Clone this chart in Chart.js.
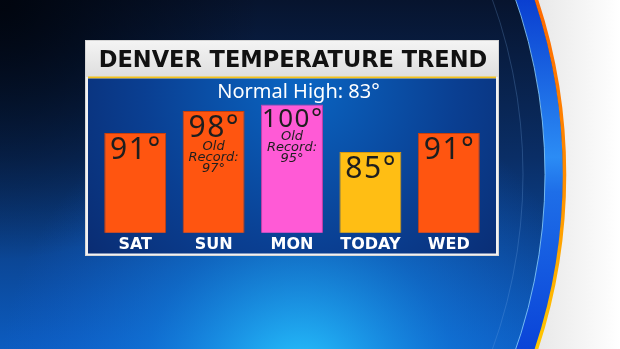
<!DOCTYPE html>
<html>
<head>
<meta charset="utf-8">
<script src="https://cdn.jsdelivr.net/npm/chart.js"></script>
<style>
  html, body { margin: 0; padding: 0; background: #fff; }
  #wrap { width: 620px; height: 349px; }
</style>
</head>
<body>
<div id="wrap"><canvas id="tempChart" width="620" height="349"></canvas></div>
<script>
const days = ['SAT', 'SUN', 'MON', 'TODAY', 'WED'];
const highs = [91, 98, 100, 85, 91];
const oldRecords = [null, 97, 95, null, null];
const chartTitle = 'DENVER TEMPERATURE TREND';
const normalHigh = 83;

// background: dark-to-bright blue studio backdrop with the curved ribbon on the right
const backdrop = {
    id: 'backdrop',
    beforeDraw(chart) {
        const c = chart.ctx;
        const W = chart.width, H = chart.height;
        c.save();
        // white outside the ribbon
        let g = c.createLinearGradient(540, 0, W, 0);
        g.addColorStop(0, '#e9e9e9');
        g.addColorStop(1, '#ffffff');
        c.fillStyle = g;
        c.fillRect(0, 0, W, H);

        const cx = 8, cy = 174.5;
        c.beginPath();
        c.arc(cx, cy, 557, 0, Math.PI * 2);
        c.clip();
        g = c.createLinearGradient(0, 0, 0, H);
        g.addColorStop(0, '#07142e');
        g.addColorStop(0.45, '#0a2e66');
        g.addColorStop(1, '#0c5cc0');
        c.fillStyle = g;
        c.fillRect(0, 0, W, H);
        let r = c.createRadialGradient(300, 380, 10, 300, 380, 300);
        r.addColorStop(0, 'rgba(40,200,255,0.95)');
        r.addColorStop(0.5, 'rgba(20,130,230,0.5)');
        r.addColorStop(1, 'rgba(20,100,220,0)');
        c.fillStyle = r;
        c.fillRect(0, 0, W, H);
        r = c.createRadialGradient(0, 0, 10, 0, 0, 260);
        r.addColorStop(0, 'rgba(0,4,12,0.9)');
        r.addColorStop(1, 'rgba(0,4,12,0)');
        c.fillStyle = r;
        c.fillRect(0, 0, W, H);
        c.restore();

        c.save();
        // faint inner ring
        c.strokeStyle = 'rgba(120,170,230,0.25)';
        c.lineWidth = 1;
        c.beginPath();
        c.arc(cx, cy, 515, -0.4, 0.4);
        c.stroke();
        // blue ribbon
        g = c.createLinearGradient(0, 0, 0, H);
        g.addColorStop(0, '#0a3fd0');
        g.addColorStop(0.45, '#2b8cf5');
        g.addColorStop(0.55, '#1e6ee8');
        g.addColorStop(1, '#0a44d8');
        c.strokeStyle = g;
        c.lineWidth = 18;
        c.beginPath();
        c.arc(cx, cy, 546, -0.4, 0.4);
        c.stroke();
        c.strokeStyle = 'rgba(140,210,255,0.8)';
        c.lineWidth = 1;
        c.beginPath();
        c.arc(cx, cy, 537, -0.4, 0.4);
        c.stroke();
        // orange / yellow edge
        g = c.createLinearGradient(0, 0, 0, H);
        g.addColorStop(0, '#ff6a00');
        g.addColorStop(0.5, '#ff8c00');
        g.addColorStop(1, '#ffc800');
        c.strokeStyle = g;
        c.lineWidth = 3.5;
        c.beginPath();
        c.arc(cx, cy, 556.5, -0.4, 0.4);
        c.stroke();
        c.restore();

        // graphic panel
        c.save();
        c.fillStyle = '#d6d6d6';
        c.fillRect(85, 40, 414, 216);
        g = c.createLinearGradient(0, 41, 0, 77);
        g.addColorStop(0, '#f4f4f4');
        g.addColorStop(1, '#dedede');
        c.fillStyle = g;
        c.fillRect(86, 41, 412, 36);
        c.fillStyle = '#f2f2f2';
        c.fillRect(86, 77, 412, 178);
        c.fillStyle = '#f3c21a';
        c.fillRect(88, 76.5, 408, 2);
        r = c.createRadialGradient(300, 80, 10, 300, 110, 300);
        r.addColorStop(0, '#0a63c0');
        r.addColorStop(0.5, '#0a3f92');
        r.addColorStop(1, '#0a2566');
        c.fillStyle = r;
        c.fillRect(88, 78.5, 408, 175);

        c.textAlign = 'center';
        c.textBaseline = 'alphabetic';
        c.fillStyle = '#111111';
        c.font = 'bold 22.5px "DejaVu Sans"';
        c.fillText(chartTitle, 293, 67);
        c.fillStyle = '#ffffff';
        c.font = '20px "Noto Sans"';
        c.fillText('Normal High: ' + normalHigh + '\u00b0', 298.5, 98);
        c.restore();
    }
};

// temperature and old-record text inside each bar
const barText = {
    id: 'barText',
    afterDatasetsDraw(chart) {
        const c = chart.ctx;
        const meta = chart.getDatasetMeta(0);
        c.save();
        c.textAlign = 'center';
        c.textBaseline = 'alphabetic';
        c.fillStyle = '#1e1e1e';
        meta.data.forEach((bar, i) => {
            const label = highs[i] + '\u00b0';
            let size = 30;
            c.letterSpacing = '1.5px';
            c.font = size + 'px "Noto Sans"';
            while (c.measureText(label).width > bar.width && size > 10) {
                size--;
                c.font = size + 'px "Noto Sans"';
            }
            const base = bar.y + size * 0.86;
            c.fillText(label, bar.x + 0.75, base);
            if (oldRecords[i] != null) {
                c.letterSpacing = '0px';
                c.font = 'italic 13px "DejaVu Sans"';
                c.fillText('Old', bar.x, base + 13);
                c.fillText('Record:', bar.x, base + 24.5);
                c.fillText(oldRecords[i] + '\u00b0', bar.x, base + 35);
            }
        });
        c.restore();
    }
};

new Chart(document.getElementById('tempChart'), {
    type: 'bar',
    data: {
        labels: days,
        datasets: [{
            data: highs,
            backgroundColor: ['#ff5510', '#ff5510', '#ff5ad6', '#ffbe14', '#ff5510'],
            borderColor: ['#c9400c', '#c9400c', '#c940a8', '#d89a10', '#c9400c'],
            borderWidth: 1,
            borderSkipped: false,
            categoryPercentage: 1,
            barPercentage: 0.79
        }]
    },
    options: {
        responsive: false,
        animation: false,
        layout: { padding: { left: 96, right: 132, top: 103, bottom: 93 } },
        plugins: {
            legend: { display: false },
            tooltip: { enabled: false }
        },
        scales: {
            x: {
                grid: { display: false, drawTicks: false },
                border: { display: false },
                ticks: {
                    color: '#ffffff',
                    padding: 2,
                    font: { family: 'DejaVu Sans', weight: 'bold', size: 16 }
                }
            },
            y: {
                display: false,
                min: 59.5,
                max: 100.5
            }
        }
    },
    plugins: [backdrop, barText]
});
</script>
</body>
</html>
